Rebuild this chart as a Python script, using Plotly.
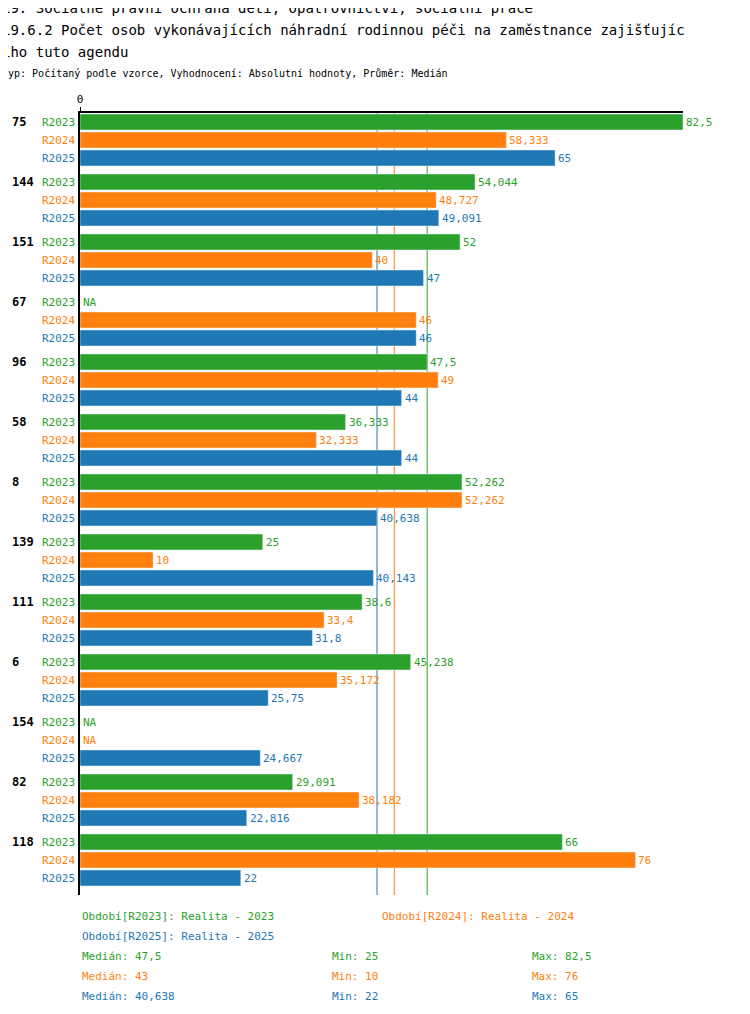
import plotly.graph_objects as go

groups = ["75","144","151","67","96","58","8","139","111","6","154","82","118"]
series = ["R2023","R2024","R2025"]
colors = ["#2ca02c","#ff7f0e","#1f77b4"]
v2023 = [82.5,54.044,52,None,47.5,36.333,52.262,25,38.6,45.238,None,29.091,66]
v2024 = [58.333,48.727,40,46,49,32.333,52.262,10,33.4,35.172,None,38.182,76]
v2025 = [65,49.091,47,46,44,44,40.638,40.143,31.8,25.75,24.667,22.816,22]
medians = [47.5,43,40.638]
mins = [25,10,22]
maxs = [82.5,76,65]
labels_txt = ["47,5","43","40,638"]

def fmt(v):
    s = ("%.3f" % v).rstrip("0").rstrip(".")
    return s.replace(".", ",")

FONT = "DejaVu Sans Mono"
OFF = 8  # page body margin
W, H = 750, 1014
pl, pr, ptop, pbot = 80 - OFF, 683 - OFF, 113 - OFF, 895 - OFF

def pap(px, py):
    px -= OFF; py -= OFF
    return (px - pl) / (pr - pl), (pbot - py) / (pbot - ptop)

fig = go.Figure()
anns = []
allvals = [v2023, v2024, v2025]
for si, (name, vals, c) in enumerate(zip(series, allvals, colors)):
    ys = [g*60 + si*18 for g in range(len(groups))]
    xs = [v if v is not None else 0 for v in vals]
    fig.add_trace(go.Bar(x=xs, y=ys, orientation="h", marker_color=c, width=16,
                         showlegend=False, hoverinfo="skip"))
    for y, v in zip(ys, vals):
        anns.append(dict(x=(v or 0), y=y, xref="x", yref="y", text=fmt(v) if v is not None else "NA",
                         showarrow=False, xanchor="left", xshift=1,
                         font=dict(family=FONT, size=11, color=c)))
        anns.append(dict(x=0, y=y, xref="x", yref="y", text=name, showarrow=False,
                         xanchor="right", xshift=-3, font=dict(family=FONT, size=11, color=c)))
for g, lab in enumerate(groups):
    anns.append(dict(x=pap(10, 0)[0], y=g*60, xref="paper", yref="y", text="<b>"+lab+"</b>",
                     showarrow=False, xanchor="left", font=dict(family=FONT, size=12, color="black")))
shapes = []
for m, c in zip(medians, colors):
    shapes.append(dict(type="line", x0=m, x1=m, y0=0, y1=1, xref="x", yref="paper",
                       line=dict(color=c, width=1), layer="below"))

texts = [(80, 916, "Období[R2023]: Realita - 2023", colors[0]),
         (380, 916, "Období[R2024]: Realita - 2024", colors[1]),
         (80, 936, "Období[R2025]: Realita - 2025", colors[2])]
for i in range(3):
    y = 956 + 20*i
    texts.append((80, y, "Medián: " + labels_txt[i], colors[i]))
    texts.append((330, y, "Min: " + fmt(mins[i]), colors[i]))
    texts.append((530, y, "Max: " + fmt(maxs[i]), colors[i]))
for px, py, t, c in texts:
    x, y = pap(px, py)
    anns.append(dict(x=x, y=y, xref="paper", yref="paper", text=t, showarrow=False,
                     xanchor="left", yanchor="middle", font=dict(family=FONT, size=11, color=c)))

titles = [(8, "19. Sociálně právní ochrana dětí, opatrovnictví, sociální práce", 14),
          (30, "19.6.2 Počet osob vykonávajících náhradní rodinnou péči na zaměstnance zajišťujíc", 14),
          (52, "ího tuto agendu", 14),
          (73, "Typ: Počítaný podle vzorce, Vyhodnocení: Absolutní hodnoty, Průměr: Medián", 10)]
for py, t, s in titles:
    x, y = pap(0, py)
    anns.append(dict(x=x, y=y, xref="paper", yref="paper", text=t, showarrow=False,
                     xanchor="left", yanchor="middle", font=dict(family=FONT, size=s, color="black")))

fig.update_layout(width=W, height=H, margin=dict(l=pl, r=W-pr, t=ptop, b=H-pbot),
                  plot_bgcolor="white", paper_bgcolor="white", barmode="overlay",
                  annotations=anns, shapes=shapes,
                  xaxis=dict(range=[0, 82.5], side="top", tickvals=[0], ticktext=["0"],
                             showgrid=False, zeroline=False, showline=True, linecolor="black",
                             linewidth=2, ticks="outside", ticklen=4, tickcolor="black",
                             tickfont=dict(family=FONT, size=11, color="black")),
                  yaxis=dict(range=[773, -9], showticklabels=False, showgrid=False, zeroline=False,
                             showline=True, linecolor="black", linewidth=2))
fig.write_html("out.html")
